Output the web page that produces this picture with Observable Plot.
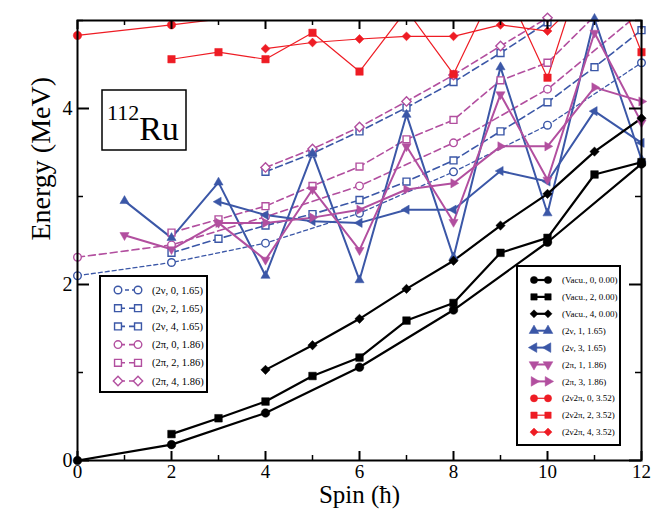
<!DOCTYPE html>
<html>
<head>
<meta charset="utf-8">
<script src="https://cdn.jsdelivr.net/npm/d3@7"></script>
<script src="https://cdn.jsdelivr.net/npm/@observablehq/plot@0.6"></script>
<style>
  html, body { margin: 0; padding: 0; background: white; }
  #chart { width: 664px; height: 512px; }
</style>
</head>
<body>
<div id="chart"></div>
<script>
// ---------- data ----------
const vac0X = [0, 2, 4, 6, 8, 10, 12];
const vac0Y = [0, 0.18, 0.54, 1.06, 1.71, 2.48, 3.37];
const vac2X = [2, 3, 4, 5, 6, 7, 8, 9, 10, 11, 12];
const vac2Y = [0.30, 0.48, 0.67, 0.96, 1.17, 1.59, 1.79, 2.36, 2.53, 3.25, 3.39];
const vac4X = [4, 5, 6, 7, 8, 9, 10, 11, 12];
const vac4Y = [1.03, 1.31, 1.61, 1.95, 2.27, 2.67, 3.03, 3.51, 3.89];

const nu1X = [1, 2, 3, 4, 5, 6, 7, 8, 9, 10, 11, 12];
const nu1Y = [2.95, 2.53, 3.16, 2.10, 3.49, 2.05, 3.93, 2.31, 4.47, 2.81, 5.02, 3.42];
const nu3X = [3, 4, 5, 6, 7, 8, 9, 10, 11, 12];
const nu3Y = [2.94, 2.79, 2.72, 2.70, 2.85, 2.85, 3.29, 3.17, 3.97, 3.61];
const pi1X = [1, 2, 3, 4, 5, 6, 7, 8, 9, 10, 11, 12];
const pi1Y = [2.56, 2.40, 2.70, 2.28, 3.08, 2.39, 3.57, 2.71, 4.16, 3.19, 4.86, 3.84];
const pi3X = [3, 4, 5, 6, 7, 8, 9, 10, 11, 12];
const pi3Y = [2.70, 2.70, 2.76, 2.85, 3.08, 3.15, 3.57, 3.57, 4.24, 4.08];

const nu0X = [0, 2, 4, 6, 8, 10, 12];
const nu0Y = [2.10, 2.25, 2.47, 2.81, 3.28, 3.81, 4.52];
const nu2X = [2, 3, 4, 5, 6, 7, 8, 9, 10, 11, 12];
const nu2Y = [2.36, 2.52, 2.67, 2.80, 2.96, 3.17, 3.41, 3.74, 4.07, 4.47, 4.89];
const nu4X = [4, 5, 6, 7, 8, 9, 10, 11, 12];
const nu4Y = [3.28, 3.49, 3.74, 4.01, 4.30, 4.63, 4.98, 5.30, 5.65];
const pi0X = [0, 2, 4, 6, 8, 10, 12];
const pi0Y = [2.31, 2.45, 2.77, 3.12, 3.61, 4.22, 5.10];
const pi2X = [2, 3, 4, 5, 6, 7, 8, 9, 10, 11, 12];
const pi2Y = [2.59, 2.74, 2.89, 3.12, 3.34, 3.65, 3.87, 4.32, 4.52, 5.05, 5.50];
const pi4X = [4, 5, 6, 7, 8, 9, 10, 11, 12];
const pi4Y = [3.33, 3.54, 3.79, 4.08, 4.38, 4.71, 5.03, 5.40, 5.75];

const r0X = [0, 2, 4];
const r0Y = [4.83, 4.95, 5.08];
const r2X = [2, 3, 4, 5, 6, 7, 8, 9, 10, 11, 12];
const r2Y = [4.56, 4.64, 4.56, 4.86, 4.42, 5.12, 4.39, 5.50, 4.35, 6.00, 4.64];
const r4X = [4, 5, 6, 7, 8, 9, 10, 11];
const r4Y = [4.68, 4.75, 4.79, 4.82, 4.82, 4.95, 4.88, 5.40];

const xMajor = [0, 2, 4, 6, 8, 10, 12];
const xMinor = [1, 3, 5, 7, 9, 11];
const yMajor = [0, 2, 4];
const yMinor = [1, 3, 5];

const leftLegend = ["(2ν, 0, 1.65)", "(2ν, 2, 1.65)", "(2ν, 4, 1.65)", "(2π, 0, 1.86)", "(2π, 2, 1.86)", "(2π, 4, 1.86)"];
const rightLegend = ["(Vacu., 0, 0.00)", "(Vacu., 2, 0.00)", "(Vacu., 4, 0.00)", "(2ν, 1, 1.65)", "(2ν, 3, 1.65)",
  "(2π, 1, 1.86)", "(2π, 3, 1.86)", "(2ν2π, 0, 3.52)", "(2ν2π, 2, 3.52)", "(2ν2π, 4, 3.52)"];

// ---------- styling ----------
const BLUE = "#3b57a7", PINK = "#b24f9f", RED = "#ee1c24", BLACK = "#000";
const ser = (xs, ys) => xs.map((x, i) => ({x, y: ys[i]}));

const series = [
  // dashed (open markers)
  {d: ser(nu0X, nu0Y), c: BLUE, sym: "circle", open: true, dash: "4,3", w: 1.3, r: 3.8},
  {d: ser(nu2X, nu2Y), c: BLUE, sym: "square", open: true, dash: "7,4", w: 1.6, r: 3.9},
  {d: ser(nu4X, nu4Y), c: BLUE, sym: "square", open: true, dash: "7,4", w: 1.6, r: 3.9},
  {d: ser(pi0X, pi0Y), c: PINK, sym: "circle", open: true, dash: "7,4", w: 1.6, r: 3.8},
  {d: ser(pi2X, pi2Y), c: PINK, sym: "square", open: true, dash: "7,4", w: 1.6, r: 3.9},
  {d: ser(pi4X, pi4Y), c: PINK, sym: "diamond2", open: true, dash: "7,4", w: 1.6, r: 4.2},
  // red
  {d: ser(r0X, r0Y), c: RED, sym: "circle", w: 1.2, r: 4.2},
  {d: ser(r2X, r2Y), c: RED, sym: "square", w: 1.2, r: 4.2},
  {d: ser(r4X, r4Y), c: RED, sym: "diamond2", w: 1.2, r: 4.0},
  // solid blue/pink
  {d: ser(nu1X, nu1Y), c: BLUE, sym: "triangle", rot: 0, w: 2, r: 3.4},
  {d: ser(nu3X, nu3Y), c: BLUE, sym: "triangle", rot: -90, w: 2, r: 3.4},
  {d: ser(pi1X, pi1Y), c: PINK, sym: "triangle", rot: 180, w: 2, r: 3.4},
  {d: ser(pi3X, pi3Y), c: PINK, sym: "triangle", rot: 90, w: 2, r: 3.4},
  // black
  {d: ser(vac0X, vac0Y), c: BLACK, sym: "circle", w: 2.2, r: 4.3},
  {d: ser(vac2X, vac2Y), c: BLACK, sym: "square", w: 2.2, r: 4.3},
  {d: ser(vac4X, vac4Y), c: BLACK, sym: "diamond2", w: 2.2, r: 4.2},
];

const marks = [];
for (const s of series) {
  marks.push(Plot.line(s.d, {x: "x", y: "y", stroke: s.c, strokeWidth: s.w,
    strokeDasharray: s.dash || null, clip: true}));
}
for (const s of series) {
  marks.push(Plot.dot(s.d.filter(p => p.y <= 5.03), {x: "x", y: "y", symbol: s.sym, r: s.r,
    fill: s.open ? "white" : s.c, stroke: s.c, strokeWidth: s.open ? 1.4 : 0.5,
    rotate: s.rot || 0}));
}

const W = 664, H = 512, ML = 77, MR = 23, MT = 20, MB = 52;
const FW = W - ML - MR, FH = H - MT - MB;

const chart = Plot.plot({
  width: W, height: H,
  marginLeft: ML, marginRight: MR, marginTop: MT, marginBottom: MB,
  style: {fontFamily: "'Liberation Serif', 'Times New Roman', serif", background: "white", color: "black"},
  x: {domain: [0, 12]},
  y: {domain: [0, 5]},
  marks: [
    ...marks,
    // inward ticks on all four sides
    Plot.ruleX(xMajor, {x: d => d, insetTop: FH - 9, strokeWidth: 2}),
    Plot.ruleX(xMajor, {x: d => d, insetBottom: FH - 9, strokeWidth: 2}),
    Plot.ruleX(xMinor, {x: d => d, insetTop: FH - 5, strokeWidth: 1.5}),
    Plot.ruleX(xMinor, {x: d => d, insetBottom: FH - 5, strokeWidth: 1.5}),
    Plot.ruleY(yMajor, {y: d => d, insetRight: FW - 12, strokeWidth: 2}),
    Plot.ruleY(yMajor, {y: d => d, insetLeft: FW - 12, strokeWidth: 2}),
    Plot.ruleY(yMinor, {y: d => d, insetRight: FW - 6, strokeWidth: 1.5}),
    Plot.ruleY(yMinor, {y: d => d, insetLeft: FW - 6, strokeWidth: 1.5}),
    Plot.frame({stroke: "black", strokeWidth: 2}),
    Plot.axisX(xMajor, {tickSize: 0, tickPadding: 4, fontSize: 19, label: null, tickFormat: d3.format("d")}),
    Plot.axisY(yMajor, {tickSize: 0, tickPadding: 5, fontSize: 20, label: null, tickFormat: d3.format("d")}),
    Plot.text(["Spin (ħ)"], {frameAnchor: "bottom", dy: 42, fontSize: 25}),
    Plot.text(["Energy (MeV)"], {frameAnchor: "left", dx: -36, rotate: -90, fontSize: 28})
  ]
});

document.getElementById("chart").appendChild(chart);

// ---------- overlays: legends and nucleus label ----------
const svg = d3.select(chart);
const symType = {circle: d3.symbolCircle, square: d3.symbolSquare, diamond2: d3.symbolDiamond2, triangle: d3.symbolTriangle};
function legendRow(g, x1, x2, y, s, textX, label, fontSize) {
  g.append("line").attr("x1", x1).attr("x2", x2).attr("y1", y).attr("y2", y)
    .attr("stroke", s.c).attr("stroke-width", s.w).attr("stroke-dasharray", s.dash || null);
  for (const x of [x1, x2]) {
    g.append("path")
      .attr("d", d3.symbol().type(symType[s.sym]).size(Math.PI * s.r * s.r)())
      .attr("transform", `translate(${x},${y}) rotate(${s.rot || 0})`)
      .attr("fill", s.open ? "white" : s.c).attr("stroke", s.c)
      .attr("stroke-width", s.open ? 1.4 : 0.5);
  }
  g.append("text").attr("x", textX).attr("y", y).attr("dy", "0.35em")
    .attr("text-anchor", "start")
    .attr("font-size", fontSize).attr("fill", "black").text(label);
}

// left legend (dashed bands)
const gl = svg.append("g").attr("font-family", "'Liberation Serif', serif").attr("text-anchor", "start");
gl.append("rect").attr("x", 100).attr("y", 276).attr("width", 107).attr("height", 116)
  .attr("fill", "white").attr("stroke", "black").attr("stroke-width", 2);
leftLegend.forEach((lab, i) => {
  legendRow(gl, 118, 138, 290 + i * 18.2, series[i], 152, lab, 10.5);
});

// right legend (solid bands)
const rightOrder = [13, 14, 15, 9, 10, 11, 12, 6, 7, 8];
const gr = svg.append("g").attr("font-family", "'Liberation Serif', serif").attr("text-anchor", "start");
gr.append("rect").attr("x", 517).attr("y", 266).attr("width", 103).attr("height", 179)
  .attr("fill", "white").attr("stroke", "black").attr("stroke-width", 2);
rightLegend.forEach((lab, i) => {
  const s = Object.assign({}, series[rightOrder[i]], {r: 3.6});
  legendRow(gr, 534, 548, 280 + i * 16.9, s, 562, lab, 9);
});

// nucleus label box
const gn = svg.append("g").attr("font-family", "'Liberation Serif', serif").attr("text-anchor", "start");
gn.append("rect").attr("x", 102).attr("y", 90).attr("width", 84).attr("height", 60)
  .attr("fill", "white").attr("stroke", "black").attr("stroke-width", 1.5);
const tn = gn.append("text").attr("x", 107).attr("y", 140).attr("fill", "black").attr("text-anchor", "start");
tn.append("tspan").attr("font-size", 22).attr("dy", -20).text("112");
tn.append("tspan").attr("font-size", 34).attr("dy", 20).text("Ru");
</script>
</body>
</html>
